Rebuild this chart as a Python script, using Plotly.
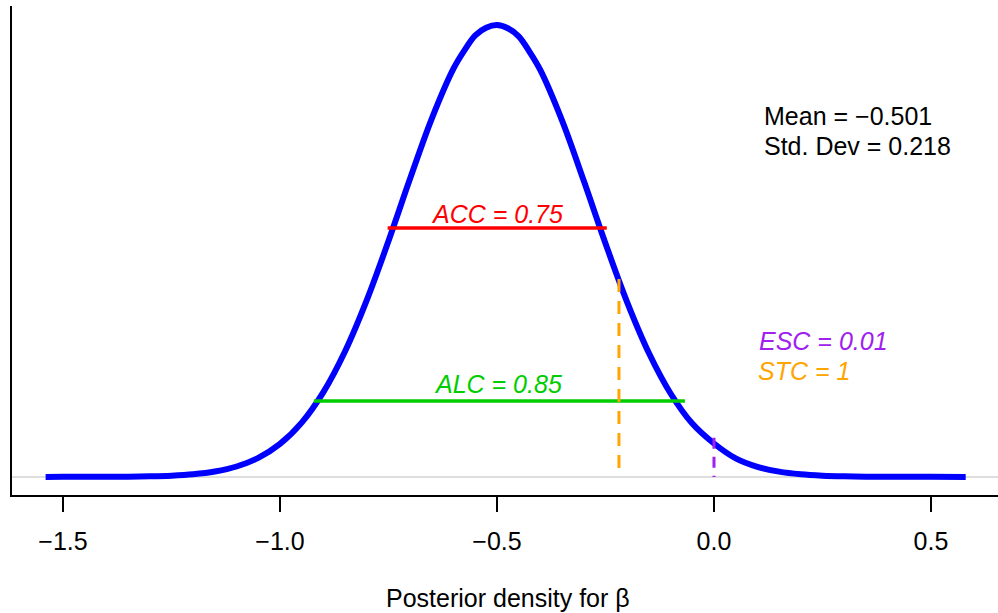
import plotly.graph_objects as go

# Posterior density curve
beta_x = [-1.54, -1.50, -1.45, -1.40, -1.35, -1.30, -1.25, -1.20, -1.15, -1.10, -1.05, -1.00,
          -0.95, -0.90, -0.85, -0.80, -0.75, -0.70, -0.65, -0.60, -0.575, -0.55, -0.525, -0.50,
          -0.475, -0.45, -0.425, -0.40, -0.35, -0.30, -0.25, -0.20, -0.15, -0.10, -0.05, 0.00,
          0.05, 0.10, 0.15, 0.20, 0.25, 0.30, 0.35, 0.40, 0.45, 0.50, 0.58]
density = [0.00002, 0.00005, 0.00013, 0.0004, 0.0010, 0.0022, 0.0050, 0.0107, 0.0218, 0.0420, 0.0768, 0.1333,
           0.2194, 0.3427, 0.5078, 0.7144, 0.9531, 1.2065, 1.4488, 1.6507, 1.724, 1.7844, 1.815, 1.826,
           1.813, 1.7806, 1.718, 1.6436, 1.4397, 1.1963, 0.9432, 0.7055, 0.5007, 0.3371, 0.2154, 0.1350,
           0.0751, 0.0409, 0.0212, 0.0104, 0.0049, 0.0021, 0.0009, 0.0004, 0.00014, 0.00005, 0.00001]

# Interval segments
acc_x = [-0.752, -0.247]
acc_y = 1.006
alc_x = [-0.922, -0.067]
alc_y = 0.307

# Vertical markers
stc_x = -0.219
stc_h = 0.80
esc_x = 0.0
esc_h = 0.158

tick_vals = [-1.5, -1.0, -0.5, 0.0, 0.5]
tick_text = ["\u22121.5", "\u22121.0", "\u22120.5", "0.0", "0.5"]

FONT = "Liberation Sans, Arial, Helvetica, sans-serif"
FS = 25

fig = go.Figure()
fig.add_hline(y=0, line_color="#D3D3D3", line_width=1.5, layer="below")
fig.add_trace(go.Scatter(x=beta_x, y=density, mode="lines",
                         line=dict(color="#0000FF", width=6, shape="spline", smoothing=1.0),
                         hoverinfo="skip"))
fig.add_trace(go.Scatter(x=acc_x, y=[acc_y, acc_y], mode="lines",
                         line=dict(color="#FF0000", width=3.5)))
fig.add_trace(go.Scatter(x=alc_x, y=[alc_y, alc_y], mode="lines",
                         line=dict(color="#00CD00", width=3.5)))
# dashed markers drawn from the top down
fig.add_trace(go.Scatter(x=[stc_x, stc_x], y=[stc_h, 0], mode="lines",
                         line=dict(color="#FFA500", width=3, dash="13px,9px")))
fig.add_trace(go.Scatter(x=[esc_x, esc_x], y=[esc_h, 0], mode="lines",
                         line=dict(color="#A020F0", width=3, dash="11px,8px")))

def ann(text, x, y, color, italic=False, xanchor="center"):
    fig.add_annotation(x=x, y=y, xref="x", yref="y", text=text, showarrow=False,
                       xanchor=xanchor, yanchor="middle",
                       font=dict(family=FONT, size=FS, color=color,
                                 style="italic" if italic else "normal"))

ann("Mean = \u22120.501", 0.1106, 1.457, "black", xanchor="left")
ann("Std. Dev = 0.218", 0.1106, 1.339, "black", xanchor="left")
ann("ACC = 0.75", -0.50, 1.064, "#FF0000", italic=True)
ann("ALC = 0.85", -0.498, 0.377, "#00CD00", italic=True)
ann("ESC = 0.01", 0.099, 0.549, "#A020F0", italic=True, xanchor="left")
ann("STC = 1", 0.097, 0.429, "#FFA500", italic=True, xanchor="left")

fig.add_annotation(x=0.503, y=(495 - 598) / 489, xref="paper", yref="paper",
                   text="Posterior density for \u03b2", showarrow=False,
                   xanchor="center", yanchor="middle",
                   font=dict(family=FONT, size=FS, color="black"))

fig.update_layout(
    width=998, height=613,
    margin=dict(l=12, r=0, t=6, b=118),
    paper_bgcolor="white", plot_bgcolor="white",
    showlegend=False,
    xaxis=dict(range=[-1.6175, 0.6544], showgrid=False, zeroline=False,
               showline=True, linecolor="black", linewidth=2,
               ticks="outside", ticklen=15, tickwidth=2, tickcolor="black",
               tickvals=tick_vals, ticktext=tick_text,
               tickfont=dict(family=FONT, size=FS, color="black"),
               ticklabelstandoff=8),
    yaxis=dict(range=[-0.0732, 1.903], showgrid=False, zeroline=False,
               showline=True, linecolor="black", linewidth=2,
               showticklabels=False, ticks=""),
)

fig.write_html("out.html")
